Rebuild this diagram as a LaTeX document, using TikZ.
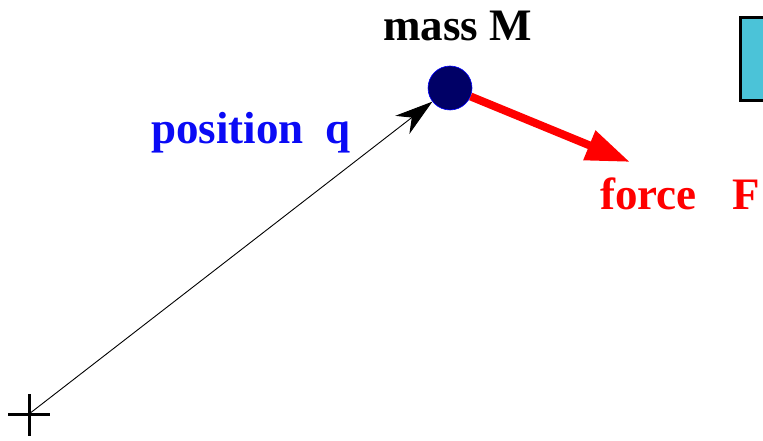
\documentclass[tikz,border=0pt]{standalone}
\usepackage{fontspec}
\setmainfont{Liberation Serif}
\usetikzlibrary{arrows.meta}
\definecolor{navy}{RGB}{0,0,102}
\definecolor{boxcyan}{RGB}{75,195,216}
\definecolor{txtblue}{RGB}{10,10,245}
\begin{document}
\begin{tikzpicture}[x=1pt,y=-1pt,
  lbl/.style={font=\fontsize{45}{50}\selectfont\bfseries, inner sep=0pt, anchor=base west}]
\useasboundingbox (0,0) rectangle (763,441);
\clip (0,0) rectangle (763,441);
% partial box on the right
\node[draw=black, line width=3pt, fill=boxcyan, minimum width=60pt, minimum height=83pt, anchor=north west, inner sep=0pt] (box) at (738.5,16.5) {};
% labels
\node[lbl] (mass) at (383,41) {mass M};
\node[lbl, text=txtblue] (pos) at (151,143) {position\hspace{22pt}q};
\node[lbl, text=red] (force) at (600,209) {force\hspace{36pt}F};
% origin cross
\coordinate (o) at (29,414);
\coordinate (cl) at (8,414);
\coordinate (cr) at (50,414);
\coordinate (ct) at (29,394);
\coordinate (cb) at (29,436);
\draw[line width=3pt] (cl) -- (cr) (ct) -- (cb);
% mass
\node[circle, fill=navy, draw=blue, line width=0.6pt, minimum size=44pt, inner sep=0pt] (m) at (450,88) {};
% position vector
\draw[line width=0.9pt, -{Stealth[length=38pt, width=23pt, inset=12pt]}] (o) -- (m);
% force vector
\coordinate (ftip) at (630,162);
\draw[red, line width=8pt, -{Triangle[length=44pt, width=30pt]}] (m) -- (ftip);
\end{tikzpicture}
\end{document}
